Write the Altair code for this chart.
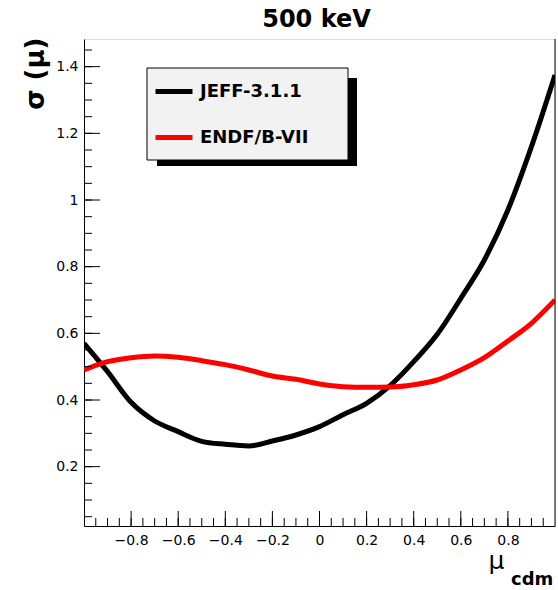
import altair as alt
import pandas as pd

# ---- data ----
mu = [-1.0, -0.9, -0.8, -0.7, -0.6, -0.5, -0.4, -0.3, -0.2, -0.1, 0.0,
      0.1, 0.2, 0.3, 0.4, 0.5, 0.6, 0.7, 0.8, 0.9, 1.0]
jeff = [0.57, 0.485, 0.393, 0.337, 0.305, 0.276, 0.267, 0.262, 0.277, 0.295, 0.32,
        0.356, 0.39, 0.443, 0.515, 0.597, 0.705, 0.82, 0.97, 1.16, 1.375]
endf = [0.49, 0.515, 0.527, 0.532, 0.528, 0.518, 0.506, 0.49, 0.472, 0.462, 0.448,
        0.44, 0.438, 0.439, 0.446, 0.46, 0.49, 0.527, 0.577, 0.63, 0.70]
series_names = ["JEFF-3.1.1", "ENDF/B-VII"]
series_colors = ["#000000", "#ff0000"]

x_major = [-0.8, -0.6, -0.4, -0.2, 0.0, 0.2, 0.4, 0.6, 0.8]
y_major = [0.2, 0.4, 0.6, 0.8, 1.0, 1.2, 1.4]
x_minor = [round(-0.95 + 0.05 * i, 2) for i in range(39)]
y_minor = [round(0.05 * i, 2) for i in range(1, 30)]

x_domain = [-1.0, 1.0]
y_domain = [0.022, 1.483]

W, H = 471, 487
FONT = "DejaVu Sans"

rows = []
for name, vals in zip(series_names, [jeff, endf]):
    for m, s in zip(mu, vals):
        rows.append({"mu": m, "sig": s, "series": name})
df = pd.DataFrame(rows)

xs = alt.Scale(domain=x_domain, nice=False, zero=False)
ys = alt.Scale(domain=y_domain, nice=False, zero=False)

lines = alt.Chart(df).mark_line(strokeWidth=5, clip=True, interpolate="monotone").encode(
    x=alt.X("mu:Q", scale=xs,
            axis=alt.Axis(values=x_major, format="~g", ticks=False, grid=False,
                          domainColor="black", domainWidth=1,
                          labelFont=FONT, labelFontSize=14, labelColor="black",
                          labelPadding=7,
                          title="μ", titleFont=FONT, titleFontSize=25,
                          titleFontWeight="normal", titleColor="black",
                          titleAlign="left", titleBaseline="alphabetic",
                          titleX=404, titleY=42)),
    y=alt.Y("sig:Q", scale=ys,
            axis=alt.Axis(values=y_major, format="~g", ticks=False, grid=False,
                          domainColor="black", domainWidth=1,
                          labelFont=FONT, labelFontSize=14, labelColor="black",
                          labelPadding=6,
                          title="σ (μ)", titleFont=FONT, titleFontSize=26,
                          titleFontWeight="bold", titleColor="black",
                          titleAngle=270, titleAlign="right", titleBaseline="alphabetic",
                          titleX=-41, titleY=-2)),
    color=alt.Color("series:N",
                    scale=alt.Scale(domain=series_names, range=series_colors),
                    legend=alt.Legend(orient="none", legendX=69, legendY=31.5, title=None,
                                      symbolType="stroke", symbolSize=1369,
                                      symbolStrokeWidth=5, labelFont=FONT,
                                      labelFontWeight="bold", labelFontSize=18,
                                      labelColor="black", labelOffset=5,
                                      rowPadding=15, padding=0)),
    order="mu:Q",
)

one = pd.DataFrame({"k": [0]})

shadow = alt.Chart(one).mark_rect(color="black").encode(
    x=alt.value(73), x2=alt.value(273), y=alt.value(39), y2=alt.value(127))
box = alt.Chart(one).mark_rect(fill="#f2f2f2", stroke="black", strokeWidth=1).encode(
    x=alt.value(63), x2=alt.value(264), y=alt.value(29), y2=alt.value(121))

xmin_t = alt.Chart(pd.DataFrame({"mu": x_minor})).mark_rule(color="black", strokeWidth=1).encode(
    x=alt.X("mu:Q", scale=xs), y=alt.value(H), y2=alt.value(H - 8))
xmaj_t = alt.Chart(pd.DataFrame({"mu": x_major})).mark_rule(color="black", strokeWidth=1).encode(
    x=alt.X("mu:Q", scale=xs), y=alt.value(H), y2=alt.value(H - 15))
ymin_t = alt.Chart(pd.DataFrame({"sig": y_minor})).mark_rule(color="black", strokeWidth=1).encode(
    y=alt.Y("sig:Q", scale=ys), x=alt.value(0), x2=alt.value(8))
ymaj_t = alt.Chart(pd.DataFrame({"sig": y_major})).mark_rule(color="black", strokeWidth=1).encode(
    y=alt.Y("sig:Q", scale=ys), x=alt.value(0), x2=alt.value(16))

right_frame = alt.Chart(one).mark_rule(color="black", strokeWidth=1).encode(
    x=alt.value(W), y=alt.value(0), y2=alt.value(H))

sub = alt.Chart(pd.DataFrame({"t": ["cdm"]})).mark_text(
    font=FONT, fontSize=18, fontWeight="bold", align="left", baseline="alphabetic",
    color="black").encode(text="t:N", x=alt.value(427), y=alt.value(546))

chart = alt.layer(lines, shadow, box, xmin_t, xmaj_t, ymin_t, ymaj_t, right_frame, sub).properties(
    width=W, height=H,
    title=alt.TitleParams("500 keV", font=FONT, fontSize=24, fontWeight="bold",
                          anchor="middle", offset=5, color="black", dx=-3),
    autosize=alt.AutoSizeParams(type="none"),
    padding={"left": 84, "top": 39, "right": 3, "bottom": 64},
).configure_view(stroke=None).configure(background="white")

chart.save("out.html", embed_options={"renderer": "svg", "actions": False})
